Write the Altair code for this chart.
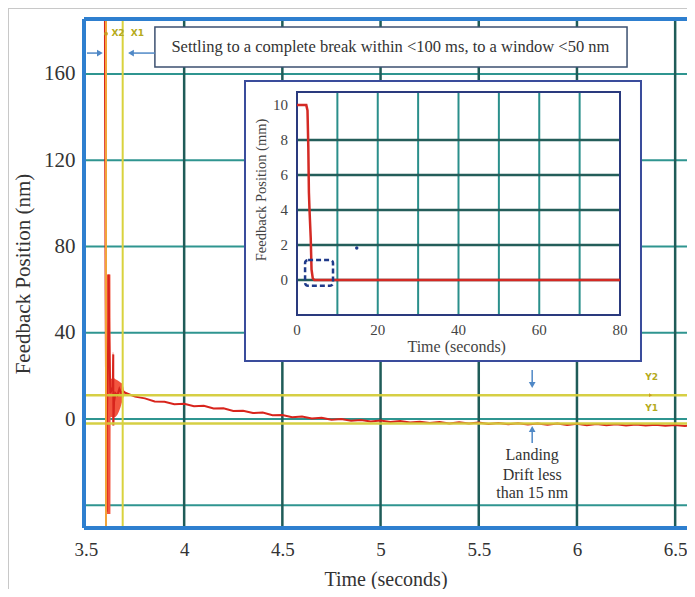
import altair as alt
import pandas as pd

FONT = "Liberation Serif"
TXT = "#333333"

# ---------------- main chart: time (s) vs feedback position (nm) ----------------
X_DOMAIN = [3.49, 6.5603]
Y_DOMAIN = [-50.5, 185.5]
x_ticks = [3.5, 4.0, 4.5, 5.0, 5.5, 6.0, 6.5]
x_grid = [4.0, 4.5, 5.0, 5.5, 6.0, 6.5]
y_ticks = [-40, 0, 40, 80, 120, 160]

# ringing envelope right after the break
env_t = [3.5990, 3.6245, 3.6255, 3.6340, 3.6365, 3.6390, 3.6420, 3.6500, 3.6600, 3.6680, 3.6760, 3.6840, 3.6900, 3.6960]
env_hi = [67, 67, 19, 18.5, 31, 31, 19, 18.5, 18, 17.5, 17, 16.5, 15, 12.6]
env_lo = [-44, -44, 1, 1, -3, -3, 1, 1, 2, 3.5, 5.5, 8, 10, 11.8]

# trace through the spikes
spike_t = [3.5966, 3.5970, 3.6000, 3.6054, 3.6054, 3.6156, 3.6156, 3.6180, 3.6240, 3.6365, 3.6390, 3.6390,
           3.6395, 3.6395, 3.6430, 3.6500, 3.6600, 3.6700, 3.6800, 3.6880, 3.6935]
spike_v = [200, 155, 60, -43, -6.5, 47, 67, 40, 12, 15, 30, 18, 5, -3, 8, 12, 11, 14, 12, 13, 12.7]

# slow drift / landing
decay_t = [3.70, 3.75, 3.80, 3.85, 3.90, 3.95, 4.00, 4.05, 4.10, 4.15, 4.20, 4.25, 4.30, 4.35, 4.40, 4.45,
           4.50, 4.55, 4.60, 4.65, 4.70, 4.75, 4.80, 4.85, 4.90, 4.95, 5.00, 5.05, 5.10, 5.15, 5.20, 5.25,
           5.30, 5.35, 5.40, 5.45, 5.50, 5.55, 5.60, 5.65, 5.70, 5.75, 5.80, 5.85, 5.90, 5.95, 6.00, 6.05,
           6.10, 6.15, 6.20, 6.25, 6.30, 6.35, 6.40, 6.45, 6.50, 6.55, 6.60]
decay_v = [12.2, 10.4, 9.6, 8.2, 8.0, 6.9, 7.1, 6.0, 6.2, 4.9, 5.0, 3.8, 3.9, 2.8, 3.0, 1.8,
           1.9, 0.9, 1.2, 0.3, 0.6, -0.3, 0.0, -0.8, -0.4, -1.1, -0.7, -1.4, -0.9, -1.6, -1.2, -1.8,
           -1.3, -2.0, -1.5, -2.1, -1.6, -2.3, -1.8, -2.4, -1.9, -2.5, -2.0, -2.6, -2.1, -2.7, -2.2, -2.8,
           -2.3, -2.9, -2.4, -3.0, -2.5, -3.0, -2.6, -3.1, -2.7, -3.2, -2.8]

cursor_x2 = 3.602
cursor_x1 = 3.687
cursor_y2 = 11.1
cursor_y1 = -2.0

note_text = "Settling to a complete break within <100 ms, to a window <50 nm"
note_box = [3.851, 6.255, 181.8, 163.2]
note_pos = [5.05, 172.5]

landing_lines = ["Landing", "Drift less", "than 15 nm"]
landing_v = [-16.7, -26.0, -34.5]
landing_t = 5.772

# arrows (t, t2, v, v2) and heads
arrow_t = [3.505, 3.736, 5.772, 5.772]
arrow_t2 = [3.566, 3.851, 5.772, 5.772]
arrow_v = [169.7, 169.7, 22.7, -6.0]
arrow_v2 = [169.7, 169.7, 17.0, -11.1]
head_t = [3.571, 3.729, 5.772, 5.772]
head_v = [169.7, 169.7, 15.8, -4.6]
head_shape = ["triangle-right", "triangle-left", "triangle-down", "triangle-up"]

cur_labels = ["X2", "X1", "Y2", "Y1"]
cur_label_t = [3.663, 3.762, 6.38, 6.38]
cur_label_v = [179.0, 179.0, 19.5, 5.1]

# ---------------- inset: time (s) vs feedback position (mm) ----------------
in_x_ticks = [0, 20, 40, 60, 80]
in_x_grid = [10, 20, 30, 40, 50, 60, 70]
in_y_ticks = [0, 2, 4, 6, 8, 10]
in_y_grid = [0, 2, 4, 6, 8]
IN_X_DOMAIN = [0, 80]
IN_Y_DOMAIN = [-2, 10.75]
in_t = [0, 2.3, 2.6, 2.8, 2.95, 3.1, 3.4, 3.6, 3.9, 4.3, 80]
in_v = [10, 10, 9.7, 7.6, 5.0, 4.0, 2.4, 0.6, 0.1, 0, 0]
in_zoom_box = [2.0, 8.92, 1.14, -0.33]
in_dot = [14.8, 1.83]
in_panel = [-12.88, 85.2, 11.38, -4.63]

W, H = 603, 509

# ---------------- encodings ----------------
XS = alt.Scale(domain=X_DOMAIN, nice=False, zero=False)
YS = alt.Scale(domain=Y_DOMAIN, nice=False, zero=False)
XAX = alt.Axis(values=x_ticks, format=".2~f", grid=False, ticks=False, domain=False,
               labelFont=FONT, labelFontSize=19, labelColor=TXT, labelPadding=12, labelFlush=False,
               title="Time (seconds)", titleFont=FONT, titleFontSize=20, titleFontWeight="normal",
               titleColor=TXT, titlePadding=10)
YAX = alt.Axis(values=y_ticks, labelExpr="datum.value < 0 ? '' : datum.label", grid=False, ticks=False,
               domain=False, labelFont=FONT, labelFontSize=21, labelColor=TXT, labelPadding=9,
               title="Feedback Position (nm)", titleFont=FONT, titleFontSize=21, titleFontWeight="normal",
               titleColor=TXT, titlePadding=10)


def mx(f):
    return alt.X(f"{f}:Q", scale=XS, axis=XAX)


def my(f):
    return alt.Y(f"{f}:Q", scale=YS, axis=YAX)


IXS = alt.Scale(domain=IN_X_DOMAIN, range=[213, 536], nice=False, zero=False)
IYS = alt.Scale(domain=IN_Y_DOMAIN, range=[296, 73], nice=False, zero=False)


def ix(f):
    return alt.X(f"{f}:Q", scale=IXS, axis=None)


def iy(f):
    return alt.Y(f"{f}:Q", scale=IYS, axis=None)


# ---------------- main layers ----------------
hgrid = alt.Chart(pd.DataFrame({"v": y_ticks})).mark_rule(color="#2f9590", strokeWidth=2).encode(y=my("v"))
vgrid = alt.Chart(pd.DataFrame({"t": x_grid})).mark_rule(color="#1f5c58", strokeWidth=2.5).encode(x=mx("t"))

env = alt.Chart(pd.DataFrame({"t": env_t, "v": env_hi, "v2": env_lo})).mark_area(
    color="#f2553f").encode(x=mx("t"), y=my("v"), y2=alt.Y2("v2:Q"))

tr_t = spike_t + decay_t
tr_v = spike_v + decay_v
trace_df = pd.DataFrame({"t": tr_t, "v": tr_v, "i": list(range(len(tr_t)))})
trace = alt.Chart(trace_df).mark_line(color="#d8241c", strokeWidth=2, clip=True).encode(
    x=mx("t"), y=my("v"), order="i:Q")

hcur = alt.Chart(pd.DataFrame({"v": [cursor_y2, cursor_y1]})).mark_rule(
    color="#d4cc3a", strokeWidth=2.5, opacity=0.95).encode(y=my("v"))
x1cur = alt.Chart(pd.DataFrame({"t": [cursor_x1]})).mark_rule(color="#d9d23e", strokeWidth=2).encode(x=mx("t"))
x2cur = alt.Chart(pd.DataFrame({"t": [cursor_x2]})).mark_rule(color="#f2a43a", strokeWidth=2).encode(x=mx("t"))

border_v = alt.Chart(pd.DataFrame({"t": [X_DOMAIN[0]]})).mark_rule(color="#2e7fcf", strokeWidth=4).encode(x=mx("t"))
border_h = alt.Chart(pd.DataFrame({"v": Y_DOMAIN})).mark_rule(color="#2e7fcf", strokeWidth=4).encode(y=my("v"))

frame_df = pd.DataFrame({"a": [0]})
frame_l = alt.Chart(frame_df).mark_rule(color="#c8c8c8", strokeWidth=1).encode(
    x=alt.value(-75.5), y=alt.value(-11), y2=alt.value(570))
frame_t = alt.Chart(frame_df).mark_rule(color="#c8c8c8", strokeWidth=1).encode(
    y=alt.value(-10.5), x=alt.value(-76), x2=alt.value(W))

note_rect = alt.Chart(pd.DataFrame({"t": [note_box[0]], "t2": [note_box[1]], "v": [note_box[2]], "v2": [note_box[3]]})).mark_rect(
    fill="white", stroke="#3c5070", strokeWidth=1.5).encode(x=mx("t"), x2=alt.X2("t2:Q"), y=my("v"), y2=alt.Y2("v2:Q"))
note = alt.Chart(pd.DataFrame({"t": [note_pos[0]], "v": [note_pos[1]], "s": [note_text]})).mark_text(
    font=FONT, fontSize=16.5, color=TXT).encode(x=mx("t"), y=my("v"), text="s:N")

arrows = alt.Chart(pd.DataFrame({"t": arrow_t, "t2": arrow_t2, "v": arrow_v, "v2": arrow_v2})).mark_rule(
    color="#4f88c6", strokeWidth=1.5).encode(x=mx("t"), x2=alt.X2("t2:Q"), y=my("v"), y2=alt.Y2("v2:Q"))
heads = alt.Chart(pd.DataFrame({"t": head_t, "v": head_v, "sh": head_shape})).mark_point(
    filled=True, size=45, color="#4f88c6", opacity=1).encode(
    x=mx("t"), y=my("v"), shape=alt.Shape("sh:N", scale=None))

cur_txt = alt.Chart(pd.DataFrame({"t": cur_label_t, "v": cur_label_v, "s": cur_labels})).mark_text(
    font="DejaVu Sans", fontWeight="bold", fontSize=9, color="#b5aa20").encode(x=mx("t"), y=my("v"), text="s:N")
cur_marks = alt.Chart(pd.DataFrame({"t": [cursor_x2, 6.375], "v": [178.7, cursor_y2],
                                    "sh": ["circle", "triangle-right"]})).mark_point(
    filled=True, size=14, color="#c9a020", opacity=1).encode(x=mx("t"), y=my("v"), shape=alt.Shape("sh:N", scale=None))

landing = alt.Chart(pd.DataFrame({"t": [landing_t] * 3, "v": landing_v, "s": landing_lines})).mark_text(
    font=FONT, fontSize=16, color=TXT).encode(x=mx("t"), y=my("v"), text="s:N")

main = alt.layer(frame_l, frame_t, hgrid, vgrid, env, trace, hcur, x1cur, x2cur, border_v, border_h,
                 note_rect, note, arrows, heads, cur_txt, cur_marks, landing)

# ---------------- inset layers ----------------
panel = alt.Chart(pd.DataFrame({"a": [in_panel[0]], "a2": [in_panel[1]], "b": [in_panel[2]], "b2": [in_panel[3]]})).mark_rect(
    fill="white", stroke="#3a4c9c", strokeWidth=2).encode(x=ix("a"), x2=alt.X2("a2:Q"), y=iy("b"), y2=alt.Y2("b2:Q"))
ivgrid = alt.Chart(pd.DataFrame({"a": in_x_grid, "b": [IN_Y_DOMAIN[0]] * len(in_x_grid),
                                 "b2": [IN_Y_DOMAIN[1]] * len(in_x_grid)})).mark_rule(
    color="#2a8f8b", strokeWidth=2).encode(x=ix("a"), y=iy("b"), y2=alt.Y2("b2:Q"))
ihgrid = alt.Chart(pd.DataFrame({"b": in_y_grid, "a": [IN_X_DOMAIN[0]] * len(in_y_grid),
                                 "a2": [IN_X_DOMAIN[1]] * len(in_y_grid)})).mark_rule(
    color="#245e5a", strokeWidth=2.5).encode(y=iy("b"), x=ix("a"), x2=alt.X2("a2:Q"))
iframe = alt.Chart(pd.DataFrame({"a": [IN_X_DOMAIN[0]], "a2": [IN_X_DOMAIN[1]], "b": [IN_Y_DOMAIN[1]], "b2": [IN_Y_DOMAIN[0]]})).mark_rect(
    fillOpacity=0, stroke="#2a3a7e", strokeWidth=2).encode(x=ix("a"), x2=alt.X2("a2:Q"), y=iy("b"), y2=alt.Y2("b2:Q"))
iline = alt.Chart(pd.DataFrame({"a": in_t, "b": in_v, "i": list(range(len(in_t)))})).mark_line(
    color="#d42a24", strokeWidth=2.5).encode(x=ix("a"), y=iy("b"), order="i:Q")
izoom = alt.Chart(pd.DataFrame({"a": [in_zoom_box[0]], "a2": [in_zoom_box[1]], "b": [in_zoom_box[2]], "b2": [in_zoom_box[3]]})).mark_rect(
    fillOpacity=0, stroke="#1f3a8a", strokeWidth=2.5, strokeDash=[5, 3], cornerRadius=3).encode(
    x=ix("a"), x2=alt.X2("a2:Q"), y=iy("b"), y2=alt.Y2("b2:Q"))
idot = alt.Chart(pd.DataFrame({"a": [in_dot[0]], "b": [in_dot[1]]})).mark_point(
    filled=True, size=12, color="#1f3a8a", opacity=1).encode(x=ix("a"), y=iy("b"))
ixlab = alt.Chart(pd.DataFrame({"a": in_x_ticks, "b": [-2.86] * len(in_x_ticks),
                                "s": [str(v) for v in in_x_ticks]})).mark_text(
    font=FONT, fontSize=15, color="#444444").encode(x=ix("a"), y=iy("b"), text="s:N")
iylab = alt.Chart(pd.DataFrame({"b": in_y_ticks, "a": [-2.2] * len(in_y_ticks),
                                "s": [str(v) for v in in_y_ticks]})).mark_text(
    font=FONT, fontSize=15, color="#444444", align="right").encode(x=ix("a"), y=iy("b"), text="s:N")
ititles = alt.Chart(pd.DataFrame({"a": [-8.74, 39.55], "b": [5.15, -3.81], "s": ["Feedback Position (mm)", "Time (seconds)"],
                                  "ang": [270, 0], "fs": [14.5, 16]})).mark_text(
    font=FONT, color="#444444").encode(x=ix("a"), y=iy("b"), text="s:N",
                                        angle=alt.Angle("ang:Q", scale=None),
                                        size=alt.Size("fs:Q", scale=None))

inset = alt.layer(panel, ivgrid, ihgrid, iframe, iline, izoom, idot, ixlab, iylab, ititles)

chart = alt.layer(main, inset).resolve_scale(x="independent", y="independent").properties(
    width=W, height=H,
    padding={"left": 76, "top": 11, "right": 0, "bottom": 61},
    autosize=alt.AutoSizeParams(type="none"),
    background="white",
).configure_view(stroke=None)

chart.save("out.html", embed_options={"renderer": "svg", "actions": False})
